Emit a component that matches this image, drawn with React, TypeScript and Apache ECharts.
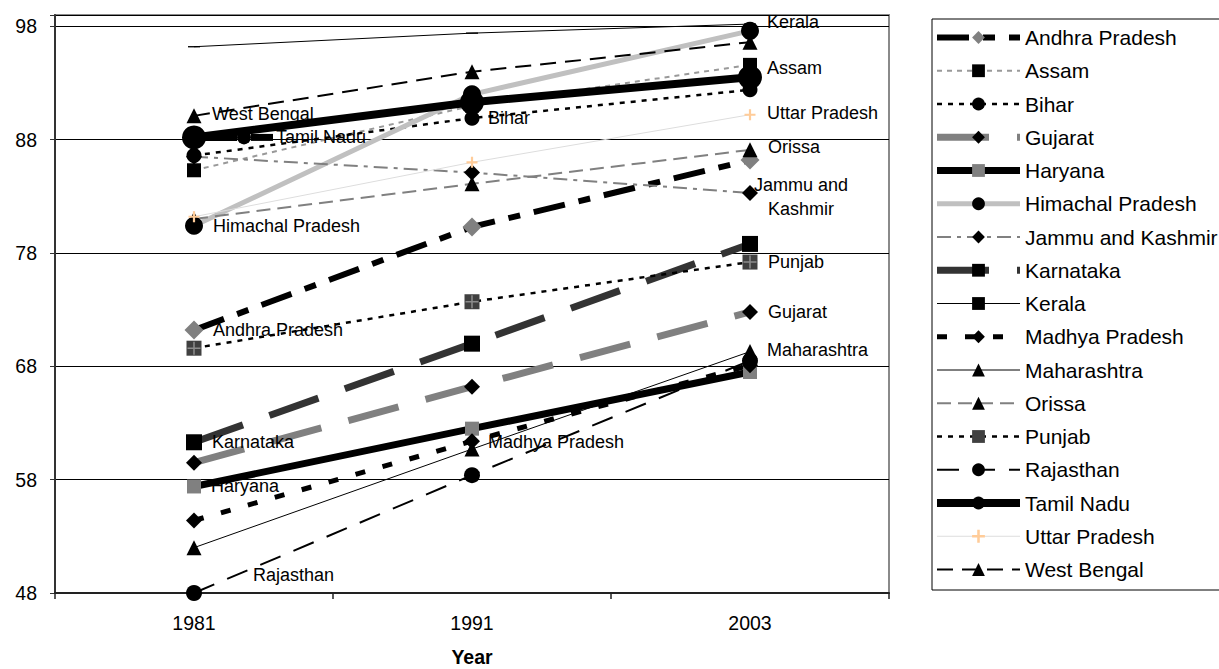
import React, { useEffect, useRef } from 'react';
import * as echarts from 'echarts';

const years = ['1981', '1991', '2003'];
const yTicks = [48, 58, 68, 78, 88, 98];
const xTitle = 'Year';

const andhraPradesh = [71.2, 80.3, 86.2];
const assam = [85.3, 91.0, 94.6];
const bihar = [86.6, 89.9, 92.4];
const gujarat = [59.5, 66.2, 72.8];
const haryana = [57.4, 62.5, 67.5];
const himachalPradesh = [80.4, 92.0, 97.6];
const jammuKashmir = [86.5, 85.1, 83.3];
const karnataka = [61.3, 70.0, 78.8];
const kerala = [96.2, 97.4, 98.2];
const madhyaPradesh = [54.4, 61.4, 68.1];
const maharashtra = [52.0, 60.7, 69.3];
const orissa = [81.0, 84.1, 87.1];
const punjab = [69.6, 73.7, 77.2];
const rajasthan = [48.0, 58.4, 68.5];
const tamilNadu = [88.2, 91.3, 93.5];
const uttarPradesh = [81.2, 86.0, 90.2];
const westBengal = [90.1, 94.0, 96.6];

const FONT = '"Liberation Sans", Arial, sans-serif';
const CROSS = 'path://M4,0h2v4h4v2h-4v4h-2v-4h-4v-2h4z';
const THIN_CROSS = 'path://M5.3,0h1.4v5.3h5.3v1.4h-5.3v5.3h-1.4v-5.3h-5.3v-1.4h5.3z';
const BAR = 'path://M0,0h12v4h-12z';

type Spec = {
  name: string;
  values: number[];
  color: string;
  width: number;
  dash: any;
  symbol: string;
  size: any;
  marker: string;
  labelAt?: number;
  offset?: number[];
  labelText?: string;
  align?: string;
};

const specs: Spec[] = [
  { name: 'Andhra Pradesh', values: andhraPradesh, color: '#000', width: 6, dash: [32, 14, 12, 14], symbol: 'diamond', size: 19, marker: '#808080', labelAt: 0, offset: [19, 0] },
  { name: 'Assam', values: assam, color: '#999', width: 2, dash: [5, 5], symbol: 'rect', size: 14, marker: '#000', labelAt: 2, offset: [17, 3] },
  { name: 'Bihar', values: bihar, color: '#000', width: 2.5, dash: [5, 6], symbol: 'circle', size: 15, marker: '#000', labelAt: 1, offset: [16, 0] },
  { name: 'Gujarat', values: gujarat, color: '#808080', width: 7, dash: [52, 28], symbol: 'diamond', size: 16, marker: '#000', labelAt: 2, offset: [18, 0] },
  { name: 'Haryana', values: haryana, color: '#000', width: 7, dash: 'solid', symbol: 'rect', size: 14, marker: '#808080', labelAt: 0, offset: [17, 0] },
  { name: 'Himachal Pradesh', values: himachalPradesh, color: '#c0c0c0', width: 5, dash: 'solid', symbol: 'circle', size: 18, marker: '#000', labelAt: 0, offset: [19, 0] },
  { name: 'Jammu and Kashmir', values: jammuKashmir, color: '#808080', width: 2, dash: [14, 6, 4, 6], symbol: 'diamond', size: 16, marker: '#000', labelAt: 2, offset: [51, 4], labelText: 'Jammu and\nKashmir', align: 'center' },
  { name: 'Karnataka', values: karnataka, color: '#333', width: 7, dash: [52, 28], symbol: 'rect', size: 16, marker: '#000', labelAt: 0, offset: [18, 0] },
  { name: 'Kerala', values: kerala, color: '#000', width: 1, dash: 'solid', symbol: BAR, size: [12, 4], marker: '#000', labelAt: 2, offset: [17, -2] },
  { name: 'Madhya Pradesh', values: madhyaPradesh, color: '#000', width: 5, dash: [10, 18], symbol: 'diamond', size: 16, marker: '#000', labelAt: 1, offset: [16, 1] },
  { name: 'Maharashtra', values: maharashtra, color: '#000', width: 1, dash: 'solid', symbol: 'triangle', size: 15, marker: '#000', labelAt: 2, offset: [17, -2] },
  { name: 'Orissa', values: orissa, color: '#808080', width: 2, dash: [14, 7], symbol: 'triangle', size: 15, marker: '#000', labelAt: 2, offset: [18, -3] },
  { name: 'Punjab', values: punjab, color: '#000', width: 2.5, dash: [5, 6], symbol: 'rect', size: 15, marker: '#404040', labelAt: 2, offset: [18, 0] },
  { name: 'Rajasthan', values: rajasthan, color: '#000', width: 2, dash: [22, 14], symbol: 'circle', size: 16, marker: '#000', labelAt: 0, offset: [59, -18] },
  { name: 'Tamil Nadu', values: tamilNadu, color: '#000', width: 8, dash: 'solid', symbol: 'circle', size: 24, marker: '#000', labelAt: 0, offset: [7, 0] },
  { name: 'Uttar Pradesh', values: uttarPradesh, color: '#dddddd', width: 1, dash: 'solid', symbol: CROSS, size: 11, marker: '#ffcc99', labelAt: 2, offset: [17, -2] },
  { name: 'West Bengal', values: westBengal, color: '#000', width: 2, dash: [16, 9], symbol: 'triangle', size: 15, marker: '#000', labelAt: 0, offset: [18, -2] },
];

function buildSeries() {
  const list: any[] = specs.map((s) => ({
    name: s.name,
    type: 'line',
    symbol: s.symbol,
    symbolSize: s.size,
    symbolKeepAspect: true,
    showAllSymbol: true,
    lineStyle: { color: s.color, width: s.width, type: s.dash, cap: 'butt' },
    itemStyle: { color: s.marker, borderWidth: 0 },
    emphasis: { disabled: true },
    data: s.values.map((v, i) => {
      if (i !== s.labelAt) return v;
      const base: any = {
        show: true,
        position: 'inside',
        align: s.align || 'left',
        verticalAlign: 'middle',
        offset: s.offset,
        color: '#000',
        fontSize: 18,
        fontFamily: FONT,
        lineHeight: 24,
        formatter: s.labelText || s.name,
      };
      if (s.name === 'Tamil Nadu') {
        base.formatter = '{a|}{b|}{c|}{t|' + s.name + '}';
        base.rich = {
          a: { width: 36, height: 7, backgroundColor: '#000', verticalAlign: 'middle' },
          b: { width: 14, height: 14, borderRadius: 7, backgroundColor: '#000', verticalAlign: 'middle' },
          c: { width: 22, height: 7, backgroundColor: '#000', verticalAlign: 'middle' },
          t: { fontSize: 18, fontFamily: FONT, color: '#000', padding: [0, 0, 0, 3], verticalAlign: 'middle' },
        };
      }
      return { value: v, label: base };
    }),
  }));
  // Punjab marker cross overlay
  list.push({
    name: 'Punjab',
    type: 'line',
    symbol: THIN_CROSS,
    symbolSize: 13,
    lineStyle: { width: 0, opacity: 0 },
    itemStyle: { color: '#8c8c8c' },
    emphasis: { disabled: true },
    silent: true,
    data: punjab,
  });
  return list;
}

export default function App() {
  const ref = useRef<HTMLDivElement>(null);
  useEffect(() => {
    if (!ref.current) return;
    const chart = echarts.init(ref.current, null, { renderer: 'svg' });
    chart.setOption({
      animation: false,
      backgroundColor: '#fff',
      grid: {
        left: 55,
        right: 330,
        top: 15,
        bottom: 76,
        containLabel: false,
        outerBoundsMode: 'none',
        show: true,
        borderColor: '#8a8a8a',
        borderWidth: 2,
        backgroundColor: 'transparent',
      },
      xAxis: {
        type: 'category',
        data: years,
        boundaryGap: true,
        name: xTitle,
        nameLocation: 'middle',
        nameGap: 54,
        nameTextStyle: { fontSize: 19.5, fontWeight: 'bold', fontFamily: FONT, color: '#000' },
        axisLine: { lineStyle: { color: '#222', width: 2 } },
        axisTick: { show: true, length: 6, lineStyle: { color: '#222', width: 1.5 } },
        axisLabel: { fontSize: 19.5, fontFamily: FONT, color: '#000', margin: 20 },
        splitLine: { show: false },
      },
      yAxis: {
        type: 'value',
        min: 48,
        max: 99,
        interval: 10,
        axisLine: { show: true, lineStyle: { color: '#333', width: 2 } },
        axisTick: { show: true, length: 5, lineStyle: { color: '#333', width: 1 } },
        axisLabel: {
          fontSize: 19.5,
          fontFamily: FONT,
          color: '#000',
          margin: 18,
          formatter: (v: number) => (yTicks.includes(v) ? String(v) : ''),
        },
        splitLine: { show: true, lineStyle: { color: '#000', width: 1 } },
      },
      legend: {
        orient: 'vertical',
        left: 932,
        top: 19,
        padding: [8, 60, 10, 1],
        itemWidth: 83,
        itemHeight: 16,
        itemGap: 12.25,
        backgroundColor: '#fff',
        borderColor: '#000',
        borderWidth: 1,
        borderRadius: 0,
        textStyle: { fontSize: 21, fontFamily: FONT, color: '#000', lineHeight: 19 },
        lineStyle: { width: 'inherit' },
        data: specs.map((s) => s.name),
      },
      series: buildSeries(),
    });
    return () => chart.dispose();
  }, []);
  return (
    <div
      ref={ref}
      style={{ position: 'absolute', left: 0, top: 0, width: 1219, height: 669 }}
    />
  );
}
